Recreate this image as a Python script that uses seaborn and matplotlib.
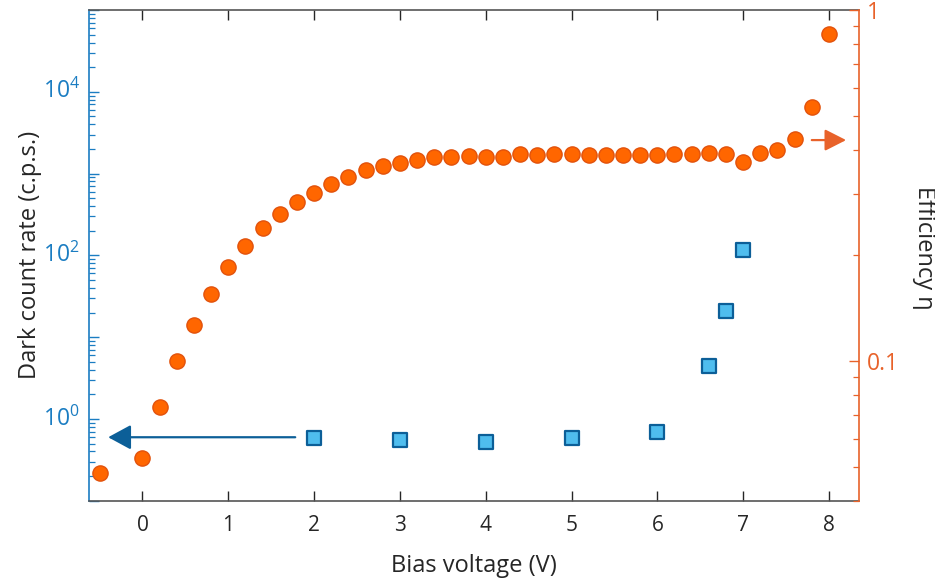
import matplotlib
matplotlib.use("Agg")
import matplotlib.pyplot as plt
from matplotlib.ticker import LogLocator, FixedLocator, FixedFormatter, NullFormatter
import pandas as pd
import seaborn as sns

# Detection efficiency versus bias voltage (right axis)
bias_eff = [-0.5, 0.0, 0.2, 0.4, 0.6, 0.8, 1.0, 1.2, 1.4, 1.6, 1.8, 2.0, 2.2, 2.4,
            2.6, 2.8, 3.0, 3.2, 3.4, 3.6, 3.8, 4.0, 4.2, 4.4, 4.6, 4.8, 5.0, 5.2,
            5.4, 5.6, 5.8, 6.0, 6.2, 6.4, 6.6, 6.8, 7.0, 7.2, 7.4, 7.6, 7.8, 8.0]
efficiency = [0.0479, 0.0529, 0.0738, 0.100, 0.127, 0.155, 0.185, 0.213, 0.239,
              0.262, 0.284, 0.302, 0.319, 0.334, 0.350, 0.360, 0.367, 0.373,
              0.380, 0.381, 0.385, 0.380, 0.381, 0.389, 0.386, 0.389, 0.389,
              0.387, 0.387, 0.387, 0.387, 0.387, 0.389, 0.389, 0.391, 0.389,
              0.368, 0.391, 0.398, 0.428, 0.530, 0.853]

# Dark count rate versus bias voltage (left axis)
bias_dcr = [2.0, 3.0, 4.0, 5.0, 6.0, 6.6, 6.8, 7.0]
dark_counts = [0.586, 0.559, 0.519, 0.586, 0.694, 4.38, 20.7, 116.0]

# Axis labels and tick labels
x_ticks = [0, 1, 2, 3, 4, 5, 6, 7, 8]
left_label_ticks = [1e0, 1e2, 1e4]
left_label_text = [r"$10^{0}$", r"$10^{2}$", r"$10^{4}$"]
right_ticks = [0.1, 1.0]
right_tick_text = ["0.1", "1"]

BLUE_AXIS = "#1b7dc2"
BLUE_FILL = "#4fbdee"
BLUE_EDGE = "#0c5f98"
ORANGE_AXIS = "#e8622a"
ORANGE_FILL = "#ff6600"
ORANGE_EDGE = "#e2520c"
DARK = "#262626"

sns.set_style("ticks")
plt.rcParams["font.family"] = ["Open Sans", "DejaVu Sans"]
plt.rcParams["mathtext.fontset"] = "custom"
plt.rcParams["mathtext.rm"] = "Open Sans"
plt.rcParams["mathtext.it"] = "Open Sans:italic"

df_eff = pd.DataFrame({"bias": bias_eff, "eff": efficiency})
df_dcr = pd.DataFrame({"bias": bias_dcr, "dcr": dark_counts})

fig = plt.figure(figsize=(9.35, 5.81), dpi=100)
ax = fig.add_axes([0.0955, 0.1382, 0.8232, 0.8446])
ax2 = ax.twinx()

sns.scatterplot(data=df_dcr, x="bias", y="dcr", ax=ax, marker="s", s=95,
                color=BLUE_FILL, edgecolor=BLUE_EDGE, linewidth=1.6, zorder=3,
                legend=False)
sns.scatterplot(data=df_eff, x="bias", y="eff", ax=ax2, marker="o", s=120,
                color=ORANGE_FILL, edgecolor=ORANGE_EDGE, linewidth=1.0, zorder=3,
                legend=False)

ax.set_xlim(-0.62, 8.35)
ax.set_yscale("log")
ax.set_ylim(0.1, 1e5)
ax2.set_yscale("log")
ax2.set_ylim(0.04, 1.0)

# x axis
ax.set_xticks(x_ticks)
ax.set_xticklabels([str(v) for v in x_ticks])
ax.set_xlabel("Bias voltage (V)", fontsize=17, color=DARK, labelpad=13)
ax.tick_params(axis="x", which="both", direction="in", top=True, length=7,
               width=1.0, color=DARK, labelcolor=DARK, labelsize=15, pad=10)

# left axis (dark count rate)
ax.yaxis.set_major_locator(LogLocator(base=10, numticks=20))
ax.yaxis.set_minor_locator(LogLocator(base=10, subs=range(2, 10), numticks=20))
ax.yaxis.set_major_formatter(NullFormatter())
ax.yaxis.set_minor_formatter(NullFormatter())
for t, lab in zip(left_label_ticks, left_label_text):
    ax.text(-0.012, t, lab, transform=ax.get_yaxis_transform(), ha="right",
            va="center", fontsize=16.5, color=BLUE_AXIS)
ax.set_ylabel("Dark count rate (c.p.s.)", fontsize=17, color=DARK)
ax.yaxis.set_label_coords(-0.062, 0.5)
ax.tick_params(axis="y", which="major", direction="in", length=7, width=1.0,
               color=BLUE_AXIS, right=False)
ax.tick_params(axis="y", which="minor", direction="in", length=4, width=0.9,
               color=BLUE_AXIS, right=False)

# right axis (efficiency)
ax2.yaxis.set_major_locator(FixedLocator(right_ticks))
ax2.yaxis.set_major_formatter(FixedFormatter(right_tick_text))
ax2.yaxis.set_minor_locator(LogLocator(base=10, subs=range(2, 10), numticks=20))
ax2.yaxis.set_minor_formatter(NullFormatter())
ax2.set_ylabel("Efficiency η", fontsize=17, color=DARK, rotation=270)
ax2.yaxis.set_label_coords(1.10, 0.515)
ax2.tick_params(axis="y", which="major", direction="in", length=7, width=1.0,
                color=ORANGE_AXIS, labelcolor=ORANGE_AXIS, labelsize=16.5, pad=6)
ax2.tick_params(axis="y", which="minor", direction="in", length=4, width=0.9,
                color=ORANGE_AXIS)

for spine in ("top", "bottom"):
    ax.spines[spine].set_color("#555555")
    ax.spines[spine].set_linewidth(1.2)
ax.spines["left"].set_color(BLUE_AXIS)
ax.spines["left"].set_linewidth(1.2)
ax2.spines["right"].set_color(ORANGE_AXIS)
ax2.spines["right"].set_linewidth(1.2)
for spine in ("left", "top", "bottom"):
    ax2.spines[spine].set_visible(False)
ax.spines["right"].set_visible(False)

# arrows pointing each series to its axis
ax.annotate("", xy=(-0.40, 0.597), xytext=(1.78, 0.597),
            arrowprops=dict(arrowstyle="-|>,head_length=0.7,head_width=0.38",
                            mutation_scale=20, color=BLUE_EDGE, lw=1.6,
                            shrinkA=0, shrinkB=0))
ax2.annotate("", xy=(8.20, 0.426), xytext=(7.80, 0.426),
             arrowprops=dict(arrowstyle="-|>,head_length=0.65,head_width=0.33",
                             mutation_scale=20, color=ORANGE_AXIS, lw=1.6,
                             shrinkA=0, shrinkB=0))

fig.savefig("out.png", dpi=100)
